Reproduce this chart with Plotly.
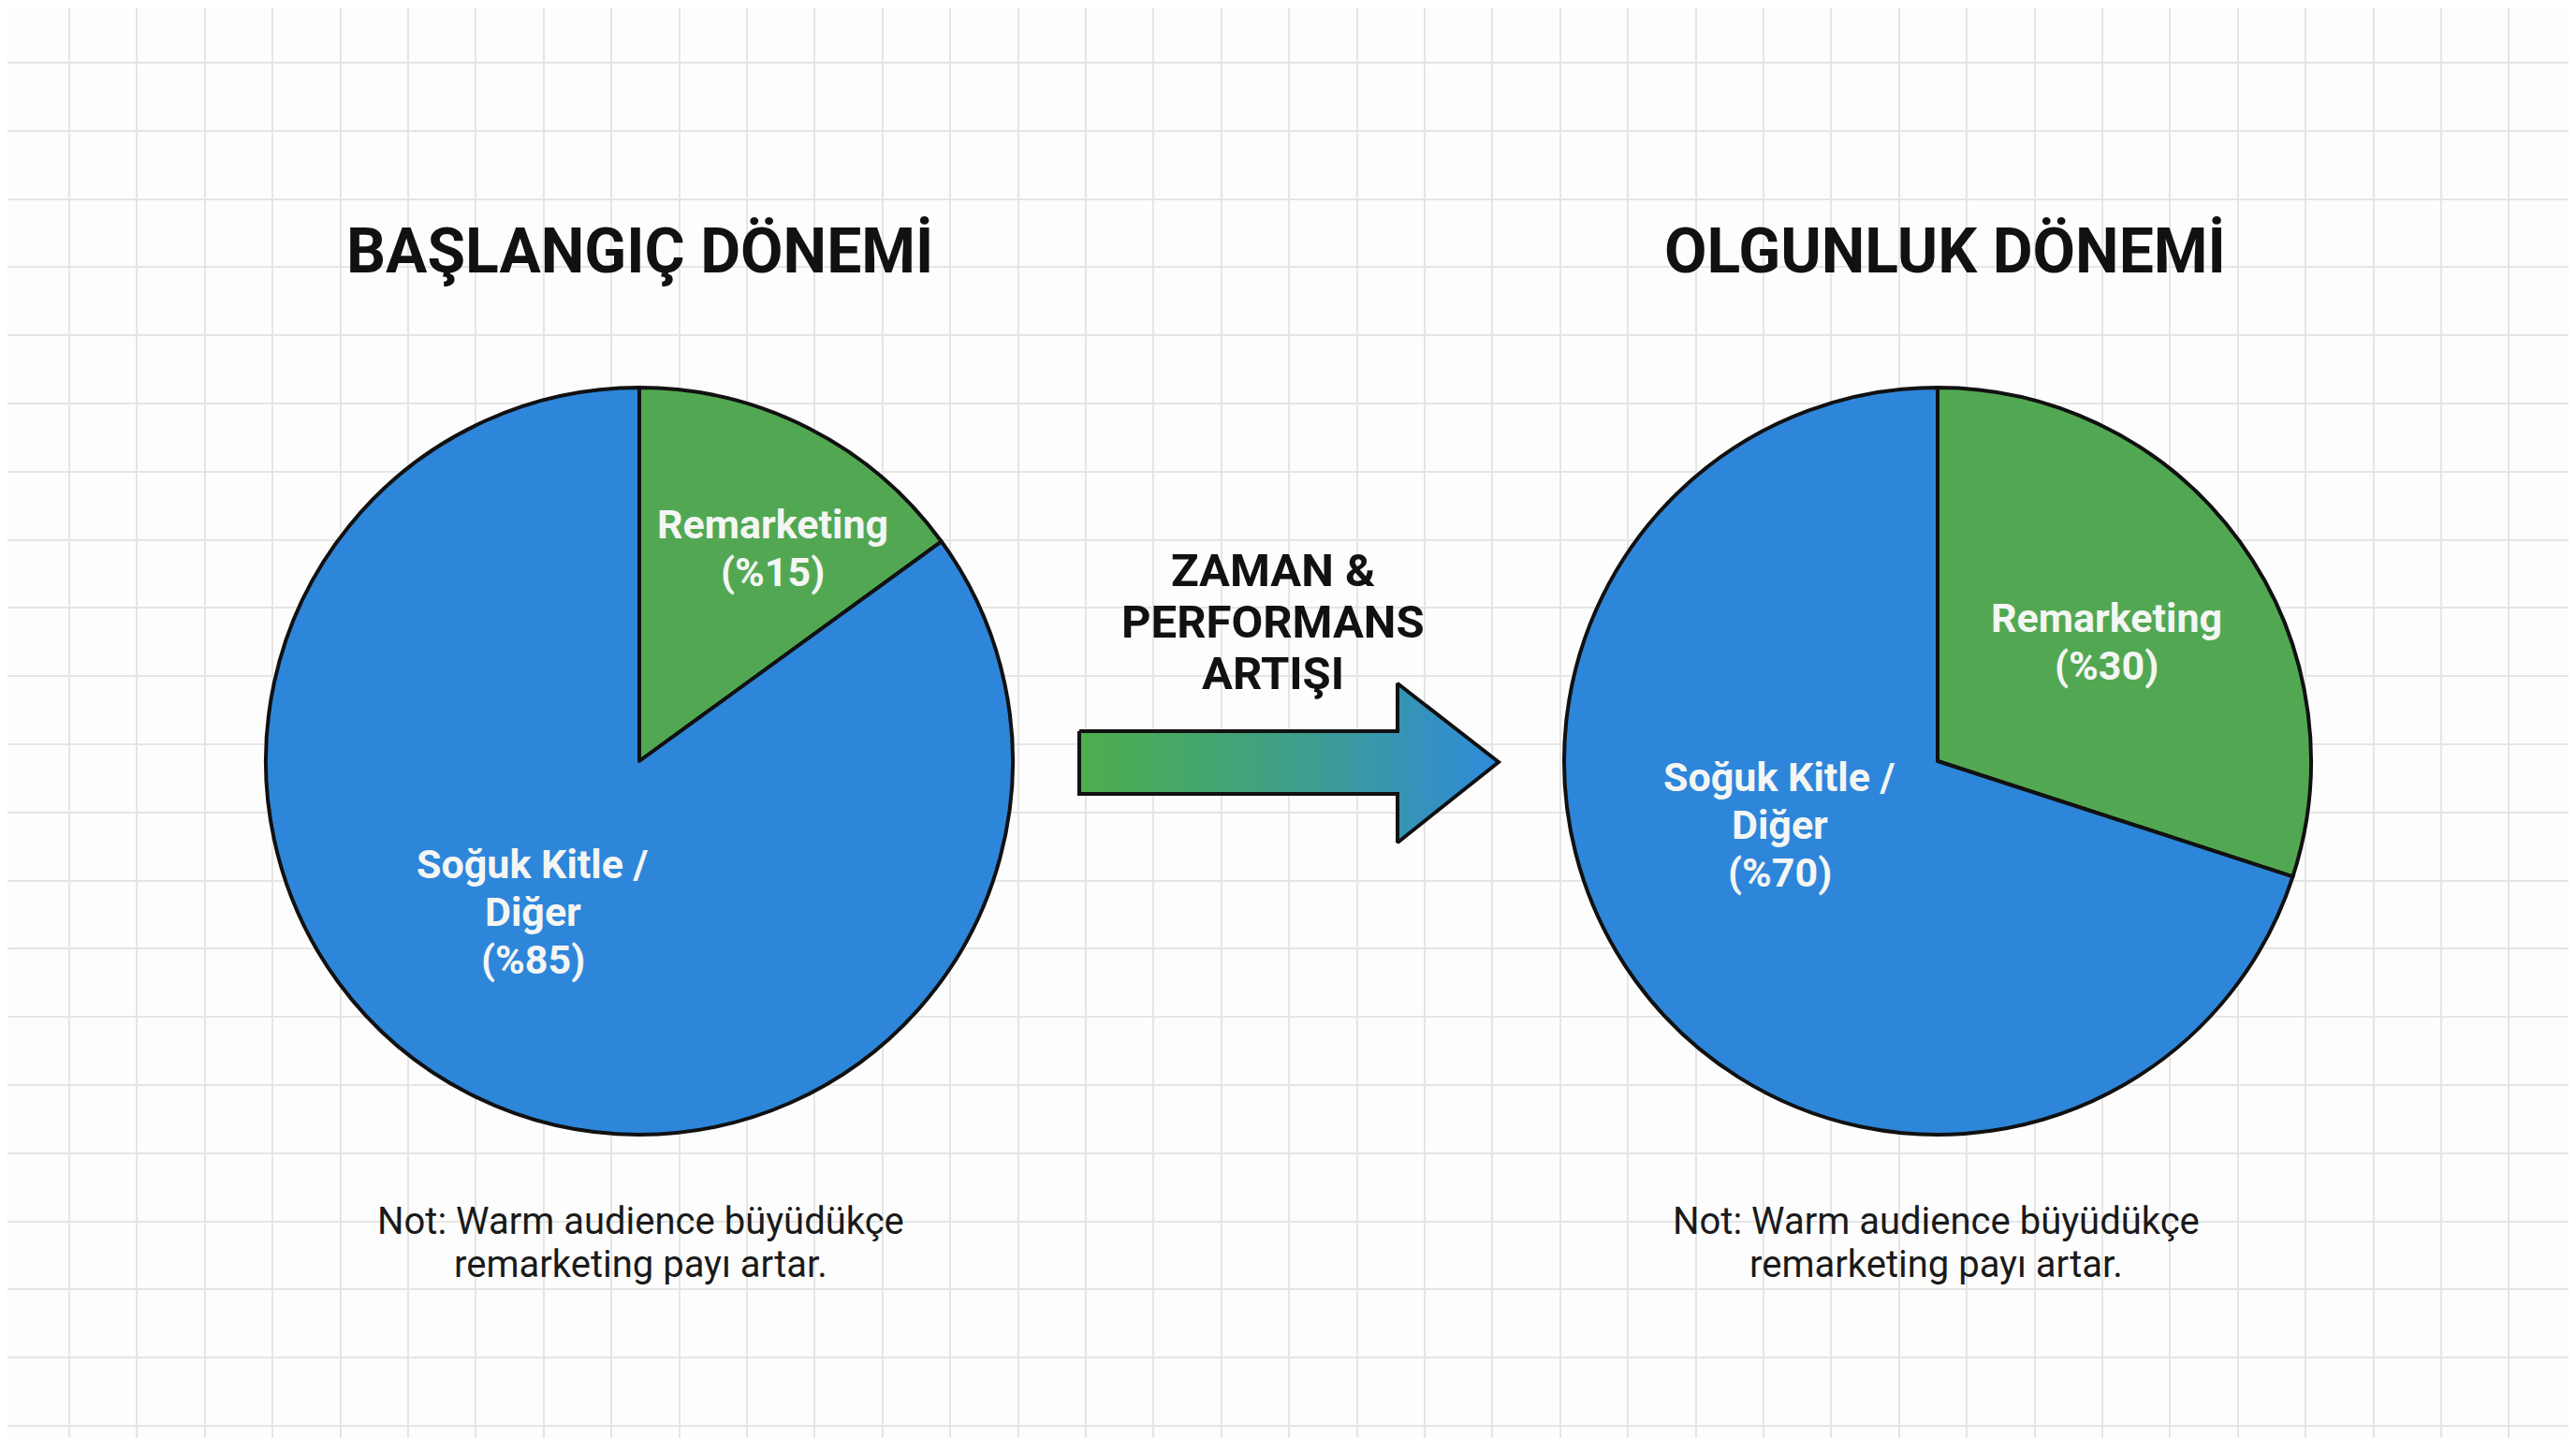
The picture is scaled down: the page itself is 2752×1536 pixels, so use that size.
import plotly.graph_objects as go

# chart data
periods = ["BAŞLANGIÇ DÖNEMİ", "OLGUNLUK DÖNEMİ"]
segments = [["Remarketing"], ["Soğuk Kitle /", "Diğer"]]
start_shares = [15, 85]
mature_shares = [30, 70]
arrow_text = ["ZAMAN &", "PERFORMANS", "ARTIŞI"]
note_lines = ["Not: Warm audience büyüdükçe", "remarketing payı artar."]

W, H = 2752, 1536
OFF = 8  # page body margin, so axis units line up with screen pixels
GREEN = "#52A852"
BLUE = "#2E86DA"
INK = "#111111"

# layout geometry (screen pixels)
pie_cx = [683, 2070]
pie_cy = 813
pie_r = 399
title_x = [683, 2078]
title_y = 268
note_x = [684, 2068]
note_y = 1327
label_pos = [[(825, 585), (569, 974)], [(2250, 685), (1901, 881)]]
arrow_x = [1153, 1493, 1493, 1601, 1493, 1493, 1153, 1153]
arrow_y = [781, 781, 730, 814, 900, 848, 848, 781]


def block(x, cy, lines, gap, font):
    # one annotation per line so the line spacing can be set
    out = []
    n = len(lines)
    for k, t in enumerate(lines):
        out.append(dict(x=x, y=cy + (k - (n - 1) / 2) * gap, text=t, font=font))
    return out


fig = go.Figure()

# arrow between the two periods
fig.add_trace(go.Scatter(
    x=arrow_x, y=arrow_y, mode="lines", fill="toself",
    fillgradient=dict(type="horizontal",
                      colorscale=[[0, "#4DAE4C"], [0.5, "#3FA088"], [1, "#2F8ADB"]]),
    line=dict(color=INK, width=4), hoverinfo="skip", showlegend=False,
))

for i, shares in enumerate([start_shares, mature_shares]):
    fig.add_trace(go.Pie(
        labels=["Remarketing", "Soğuk Kitle / Diğer"], values=shares,
        sort=False, direction="clockwise", rotation=0,
        marker=dict(colors=[GREEN, BLUE], line=dict(color=INK, width=4)),
        textinfo="none", hoverinfo="label+percent", showlegend=False,
        domain=dict(x=[(pie_cx[i] - pie_r - OFF) / W, (pie_cx[i] + pie_r - OFF) / W],
                    y=[(H - pie_cy + OFF - pie_r) / H, (H - pie_cy + OFF + pie_r) / H]),
    ))

annotations = []
label_font = dict(family="Roboto", size=43, color="#F4F6F4")
for i, shares in enumerate([start_shares, mature_shares]):
    annotations += block(title_x[i], title_y, ["<b>%s</b>" % periods[i]], 0,
                         dict(family="Roboto", size=66, color=INK))
    for j, seg in enumerate(segments):
        px, py = label_pos[i][j]
        lines = ["<b>%s</b>" % s for s in seg] + ["<b>(%%%d)</b>" % shares[j]]
        annotations += block(px, py, lines, 51, label_font)
    annotations += block(note_x[i], note_y, note_lines, 46,
                         dict(family="Roboto", size=40, color="#1A1A1A"))

annotations += block(1360, 664, ["<b>%s</b>" % t for t in arrow_text], 55,
                     dict(family="Roboto", size=49, color=INK))

for a in annotations:
    a.update(xref="x", yref="y", showarrow=False, xanchor="center", yanchor="middle")

fig.update_layout(
    width=W, height=H,
    margin=dict(l=0, r=0, t=0, b=0),
    paper_bgcolor="#FDFDFD",
    plot_bgcolor="#FDFDFD",
    xaxis=dict(range=[OFF, W + OFF], tick0=1.5, dtick=72.4, showgrid=True,
               gridcolor="#E5E5E5", gridwidth=2, zeroline=False,
               showticklabels=False, ticks="", fixedrange=True),
    yaxis=dict(range=[H + OFF, OFF], tick0=67, dtick=72.8, showgrid=True,
               gridcolor="#E5E5E5", gridwidth=2, zeroline=False,
               showticklabels=False, ticks="", fixedrange=True),
    annotations=annotations,
)

fig.write_html("out.html")
